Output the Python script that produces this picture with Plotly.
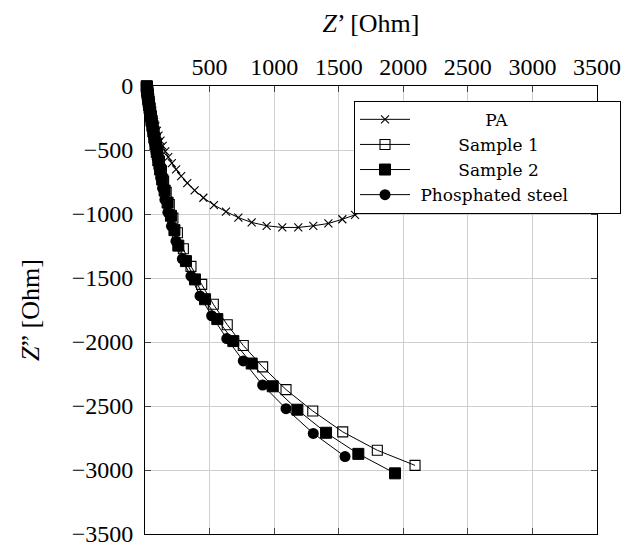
import plotly.graph_objects as go

# ---------------- data ----------------
pa_x = [8, 8, 9, 10, 11, 13, 15, 18, 21, 25, 29, 34, 40, 46, 53, 61, 70, 80, 92, 105,
        120, 137, 157, 180, 208, 241, 280, 327, 384, 452, 534, 627, 723, 826, 942,
        1063, 1187, 1303, 1420, 1528, 1626, 1717, 1800, 1875, 1940, 1996, 2043, 2081,
        2111, 2134, 2151]
pa_y = [-2, -8, -16, -25, -35, -47, -60, -74, -90, -108, -127, -148, -171, -196, -223,
        -252, -283, -316, -351, -388, -427, -468, -511, -556, -603, -652, -704, -758,
        -815, -873, -930, -981, -1028, -1066, -1092, -1105, -1105, -1092, -1074, -1041,
        -1007, -962, -910, -852, -788, -720, -650, -580, -512, -447, -386]

s1_x = [16, 17, 18, 19, 21, 23, 25, 28, 31, 35, 39, 44, 49, 55, 62, 70, 78, 88, 99, 112,
        127, 144, 164, 188, 216, 251, 297, 356, 439, 529, 637, 761, 911, 1092, 1299, 1531,
        1799, 2091]
s1_y = [-1, -9, -20, -32, -46, -62, -80, -100, -122, -146, -173, -203, -236, -273, -314,
        -359, -409, -464, -524, -590, -663, -743, -831, -927, -1032, -1147, -1272, -1409,
        -1550, -1705, -1865, -2027, -2194, -2372, -2539, -2702, -2846, -2964]

s2_x = [13, 14, 15, 16, 17, 19, 21, 23, 25, 28, 31, 35, 39, 44, 50, 57, 64, 72, 81, 91,
        103, 117, 133, 152, 175, 201, 228, 258, 317, 387, 465, 560, 684, 826, 989, 1180,
        1402, 1652, 1936]
s2_y = [-2, -9, -18, -28, -40, -53, -68, -85, -104, -125, -148, -174, -203, -235, -271,
        -311, -355, -404, -458, -517, -582, -653, -731, -817, -911, -1014, -1126, -1247,
        -1368, -1511, -1666, -1821, -1993, -2168, -2346, -2529, -2709, -2874, -3026]

ps_x = [11, 11, 12, 12, 13, 14, 15, 16, 17, 19, 20, 22, 24, 27, 30, 33, 37, 41, 46, 53,
        59, 67, 75, 84, 95, 107, 121, 136, 154, 177, 205, 240, 289, 356, 426, 516, 633,
        761, 911, 1092, 1303, 1549]
ps_y = [-5, -8, -12, -17, -23, -30, -38, -47, -58, -70, -84, -100, -118, -138, -160,
        -185, -213, -244, -278, -316, -358, -404, -455, -511, -573, -641, -716, -798,
        -888, -987, -1095, -1213, -1350, -1486, -1640, -1795, -1973, -2148, -2336, -2521,
        -2714, -2895]

x_ticks = [500, 1000, 1500, 2000, 2500, 3000, 3500]
y_ticks = [0, -500, -1000, -1500, -2000, -2500, -3000, -3500]

NB = "\u00a0"
names = ["PA", "Sample 1", "Sample 2", "Phosphated steel"]
pads = [13, 8, 8, 1]
labels = [NB * p + n + NB * (p + 6) for n, p in zip(names, pads)]

# ---------------- figure ----------------
fig = go.Figure()
line = dict(color="black", width=1)
fig.add_trace(go.Scatter(x=pa_x, y=pa_y, mode="lines+markers", name=labels[0],
                         line=line, cliponaxis=False,
                         marker=dict(symbol="x-thin-open", size=8, color="black",
                                     line=dict(color="black", width=1.1))))
fig.add_trace(go.Scatter(x=s1_x, y=s1_y, mode="lines+markers", name=labels[1],
                         line=line, cliponaxis=False,
                         marker=dict(symbol="square-open", size=10, color="black",
                                     line=dict(color="black", width=1.1))))
fig.add_trace(go.Scatter(x=s2_x, y=s2_y, mode="lines+markers", name=labels[2],
                         line=line, cliponaxis=False,
                         marker=dict(symbol="square", size=11, color="black",
                                     line=dict(color="black", width=1))))
fig.add_trace(go.Scatter(x=ps_x, y=ps_y, mode="lines+markers", name=labels[3],
                         line=line, cliponaxis=False,
                         marker=dict(symbol="circle", size=11, color="black",
                                     line=dict(color="black", width=0))))

tick_font = dict(family="Liberation Serif", size=24, color="black")
title_font = dict(family="Liberation Serif", size=26, color="black")

fig.update_layout(
    width=626, height=546,
    margin=dict(l=145, r=29, t=86, b=12, autoexpand=False),
    paper_bgcolor="white", plot_bgcolor="white",
    showlegend=True,
    legend=dict(x=0.4624, y=0.967, xanchor="left", yanchor="top",
                bgcolor="white", bordercolor="black", borderwidth=1,
                font=dict(family="DejaVu Serif", size=17, color="black"),
                itemwidth=50, tracegroupgap=0),
    xaxis=dict(range=[0, 3500], side="top", tickvals=x_ticks, automargin=False,
               tickfont=tick_font, showgrid=True, gridcolor="#cfcfcf", gridwidth=1,
               zeroline=False, showline=True, linecolor="black", linewidth=1,
               mirror="ticks", ticks="inside", ticklen=6, tickcolor="#444",
               ticklabeloverflow="allow",
               title=dict(text="<i>Z</i>\u2019 [Ohm]", font=title_font, standoff=14)),
    yaxis=dict(range=[-3500, 0], tickvals=y_ticks, automargin=False,
               tickfont=tick_font, showgrid=True, gridcolor="#cfcfcf", gridwidth=1,
               zeroline=False, showline=True, linecolor="black", linewidth=1,
               mirror="ticks", ticks="inside", ticklen=6, tickcolor="#444",
               ticklabelstandoff=6, ticklabeloverflow="allow",
               title=dict(text="<i>Z</i>\u201d [Ohm]", font=title_font, standoff=24)),
)

fig.write_html("out.html")
